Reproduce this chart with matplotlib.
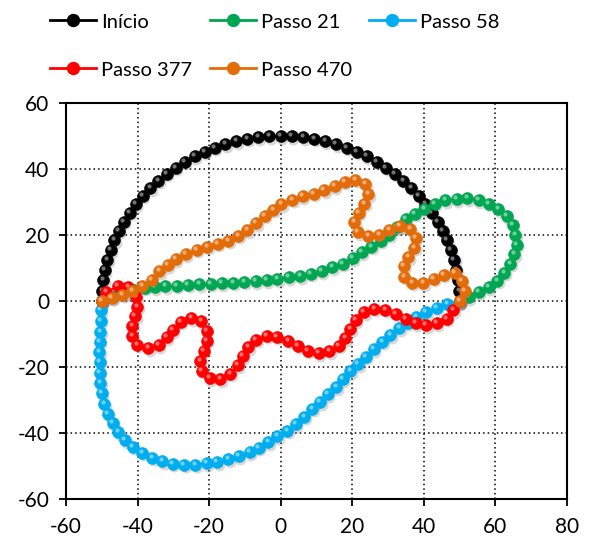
import matplotlib
matplotlib.use("Agg")
import matplotlib.pyplot as plt
from matplotlib.lines import Line2D
from matplotlib.transforms import offset_copy

plt.rcParams['font.family'] = ['Lato', 'DejaVu Sans']

# ---------------- data ----------------
labels = ["Início", "Passo 21", "Passo 58", "Passo 377", "Passo 470"]
colors = ["#000000", "#00A651", "#00AEEF", "#FF0000", "#E36C0A"]

inicio_x = [-50, -49.90, -49.61, -49.11, -48.43, -47.55, -46.49, -45.24, -43.82, -42.22, -40.45,
            -38.53, -36.45, -34.23, -31.87, -29.39, -26.79, -24.09, -21.29, -18.41, -15.45,
            -12.43, -9.37, -6.27, -3.14, 0, 3.14, 6.27, 9.37, 12.43, 15.45, 18.41, 21.29,
            24.09, 26.79, 29.39, 31.87, 34.23, 36.45, 38.53, 40.45, 42.22, 43.82, 45.24,
            46.49, 47.55, 48.43, 49.11, 49.61, 49.90, 50]
inicio_y = [0, 3.14, 6.27, 9.37, 12.43, 15.45, 18.41, 21.29, 24.09, 26.79, 29.39, 31.87, 34.23,
            36.45, 38.53, 40.45, 42.22, 43.82, 45.24, 46.49, 47.55, 48.43, 49.11, 49.61, 49.90,
            50, 49.90, 49.61, 49.11, 48.43, 47.55, 46.49, 45.24, 43.82, 42.22, 40.45, 38.53,
            36.45, 34.23, 31.87, 29.39, 26.79, 24.09, 21.29, 18.41, 15.45, 12.43, 9.37, 6.27,
            3.14, 0]

passo21_x = [-50, -47, -44, -41, -38, -35.2, -32.2, -29.1, -25.9, -22.8, -19.6, -16.5, -13.3,
             -10.2, -7.0, -3.9, -0.9, 2.3, 5.5, 8.4, 11.4, 14.4, 17.3, 20.1, 22.7, 25.3, 27.9,
             30.3, 32.5, 34.9, 37.5, 40.1, 43.1, 46.0, 49.2, 52.1, 55.3, 58.2, 60.8, 63.1,
             64.9, 65.6, 65.9, 65.3, 64.2, 62.5, 60.5, 58.1, 55.3, 52.5, 50]
passo21_y = [0, 1.2, 2.3, 3.3, 4.0, 4.2, 4.4, 4.6, 4.9, 5.1, 5.2, 5.4, 5.6, 5.8, 6.0, 6.3, 6.6,
             7.2, 7.5, 8.3, 9.0, 10.2, 11.3, 13.0, 14.8, 16.5, 18.3, 20.1, 22.3, 24.8, 26.5,
             27.8, 29.5, 30.5, 30.9, 31.1, 30.6, 29.5, 27.8, 25.7, 23.1, 20.1, 17.1, 14.1,
             11.3, 8.6, 6.2, 4.2, 2.6, 1.2, 0]

passo58_x = [-50, -50.3, -50.3, -50.4, -50.6, -50.7, -50.6, -50.6, -50.4, -50.0, -49.3, -48.3,
             -47.0, -45.4, -43.5, -41.3, -38.7, -35.9, -33.1, -30.2, -27.0, -23.9, -20.7,
             -17.8, -14.6, -11.7, -8.7, -6.1, -3.5, -0.9, 1.8, 4.2, 6.6, 8.8, 11.0, 13.2,
             15.5, 17.3, 19.5, 21.6, 23.8, 26.0, 28.4, 30.6, 33.1, 35.5, 37.9, 40.6, 43.6,
             46.6, 50]
passo58_y = [0, -2.8, -6.0, -9.3, -12.3, -15.4, -18.4, -21.7, -24.7, -27.9, -31.1, -34.1,
             -36.9, -39.8, -42.2, -44.2, -46.0, -47.5, -48.6, -49.3, -49.6, -49.6, -49.2,
             -48.8, -48.0, -47.0, -45.8, -44.4, -42.8, -41.0, -39.3, -37.3, -35.1, -32.7,
             -30.7, -28.3, -26.1, -23.7, -21.3, -19.1, -16.9, -14.6, -12.4, -10.4, -8.3,
             -6.6, -4.8, -3.3, -2.0, -0.8, 0]

passo377_x = [-50, -48.7, -45.6, -42.6, -40.4, -40.1, -40.7, -41.5, -41.5, -40.1, -37.0, -34.1,
              -31.9, -30.2, -28.0, -25.0, -22.2, -20.6, -20.6, -21.5, -22.5, -22.0, -19.8,
              -16.9, -14.1, -12.0, -10.6, -9.1, -6.9, -3.9, -1.1, 2.1, 4.8, 7.6, 10.6, 13.6,
              16.2, 18.1, 19.4, 21.0, 23.3, 26.2, 29.2, 32.1, 34.9, 37.7, 40.6, 43.6, 46.4,
              48.2, 50]
passo377_y = [0, 2.7, 4.4, 4.2, 1.2, -1.8, -4.6, -7.6, -10.6, -13.3, -14.3, -13.4, -11.0,
              -8.8, -6.3, -5.3, -6.2, -9.0, -12.0, -15.1, -18.1, -21.1, -23.4, -23.7, -22.1,
              -19.5, -16.7, -14.0, -11.8, -10.6, -10.8, -12.0, -13.6, -15.1, -15.9, -15.2,
              -13.6, -11.3, -8.5, -5.8, -3.4, -2.4, -2.6, -3.8, -5.6, -6.8, -7.3, -6.8, -5.4,
              -2.8, 0]

passo470_x = [-50, -47.2, -44.3, -41.5, -38.7, -36.1, -33.9, -31.5, -29.3, -26.5, -23.5,
              -20.5, -17.6, -14.7, -11.9, -9.3, -6.9, -4.4, -2.1, 0.2, 3.2, 6.2, 9.2, 12.1,
              15.1, 17.9, 20.8, 23.6, 24.5, 23.4, 21.8, 20.6, 21.6, 24.5, 27.5, 30.3, 33.2,
              36.2, 37.7, 37.3, 35.6, 34.4, 34.5, 36.8, 39.9, 42.7, 45.6, 48.6, 50.6, 51.4, 50]
passo470_y = [0, 1.0, 1.9, 3.0, 4.4, 6.5, 9.0, 10.8, 12.6, 14.1, 15.5, 16.5, 17.3, 18.3, 19.7,
              21.5, 23.6, 25.8, 27.7, 29.3, 30.7, 31.7, 32.5, 33.5, 34.8, 36.1, 36.7, 35.5,
              32.3, 29.5, 26.8, 24.0, 20.9, 19.6, 20.1, 21.6, 22.6, 21.8, 19.1, 16.1, 13.3,
              10.5, 7.4, 5.5, 5.4, 6.8, 8.0, 8.4, 6.0, 3.0, 0]

xs = [inicio_x, passo21_x, passo58_x, passo377_x, passo470_x]
ys = [inicio_y, passo21_y, passo58_y, passo377_y, passo470_y]

x_ticks = [-60, -40, -20, 0, 20, 40, 60, 80]
y_ticks = [-60, -40, -20, 0, 20, 40, 60]

# ---------------- figure ----------------
W, H = 589, 543
fig = plt.figure(figsize=(W / 100, H / 100), dpi=100)
ax = fig.add_axes([66 / W, 1 - 499 / H, (567 - 66) / W, (499 - 103) / H])

ms = 8.6
handles = []
for x, y, c, lab in zip(xs, ys, colors, labels):
    shadow = offset_copy(ax.transData, fig=fig, x=1.5, y=-2.5, units='dots')
    ax.plot(x, y, linestyle='none', marker='o', ms=ms, mfc='#808080', mec='none',
            alpha=0.3, transform=shadow, zorder=2)
    h, = ax.plot(x, y, color=c, lw=1.6, marker='o', ms=ms, mfc=c, mec=c, mew=0.4,
                 zorder=3, label=lab)
    hl = offset_copy(ax.transData, fig=fig, x=-1.6, y=2.0, units='dots')
    ax.plot(x, y, linestyle='none', marker='o', ms=3.0, mfc='white', mec='none',
            alpha=0.45, transform=hl, zorder=3)
    handles.append(h)

ax.set_xlim(-60, 80)
ax.set_ylim(-60, 60)
ax.set_xticks(x_ticks)
ax.set_yticks(y_ticks)
ax.set_xticklabels([str(v) for v in x_ticks])
ax.set_yticklabels([str(v) for v in y_ticks])
ax.tick_params(direction='out', length=5, width=1.3, labelsize=15, colors='black')
ax.tick_params(axis='x', pad=8)
ax.tick_params(axis='y', pad=7)
ax.grid(True, color='black', linestyle=(0, (1, 2)), linewidth=1.1)
ax.set_axisbelow(True)
for s in ax.spines.values():
    s.set_linewidth(1.5)
    s.set_color('black')

# ---------------- legend ----------------
pos = [(50, 22), (210, 22), (369, 22), (50, 70), (210, 70)]
for h, lab, (px, py) in zip(handles, labels, pos):
    lh = Line2D([], [], color=h.get_color(), lw=2, marker='o', ms=ms,
                mfc=h.get_color(), mec=h.get_color())
    fig.legend(handles=[lh], labels=[lab], loc='center left',
               bbox_to_anchor=(px / W, 1 - py / H), frameon=False, borderpad=0,
               borderaxespad=0, handlelength=2.3, handletextpad=0.25, fontsize=14.5)

fig.savefig("out.png", dpi=100)
